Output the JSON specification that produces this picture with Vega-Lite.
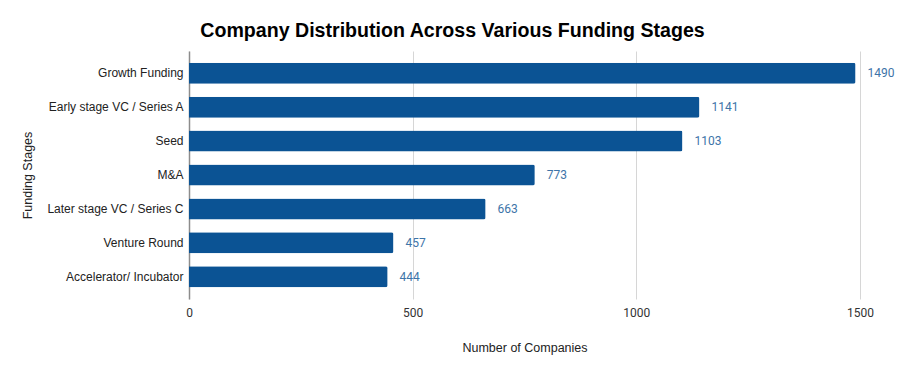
{
  "$schema": "https://vega.github.io/schema/vega-lite/v6.json",
  "width": 671,
  "height": 248,
  "autosize": {"type": "none"},
  "padding": {"left": 189, "top": 51, "right": 40, "bottom": 75},
  "background": "white",
  "title": {
    "text": "Company Distribution Across Various Funding Stages",
    "font": "Liberation Sans",
    "fontSize": 19.6,
    "fontWeight": "bold",
    "color": "#000000",
    "anchor": "middle",
    "dx": -72,
    "offset": 9
  },
  "data": {
    "values": [
      {"stage": "Growth Funding", "count": 1490},
      {"stage": "Early stage VC / Series A", "count": 1141},
      {"stage": "Seed", "count": 1103},
      {"stage": "M&A", "count": 773},
      {"stage": "Later stage VC / Series C", "count": 663},
      {"stage": "Venture Round", "count": 457},
      {"stage": "Accelerator/ Incubator", "count": 444}
    ]
  },
  "config": {
    "view": {"stroke": null}
  },
  "encoding": {
    "y": {
      "field": "stage",
      "type": "nominal",
      "sort": null,
      "scale": {"paddingInner": 0.38, "paddingOuter": 0.35},
      "axis": {
        "title": "Funding Stages",
        "titleFont": "Liberation Sans",
        "titleFontSize": 12.5,
        "titleFontWeight": "normal",
        "titleColor": "#222222",
        "titleX": -162,
        "titleY": 124,
        "titleAngle": -90,
        "titleAlign": "center",
        "titleBaseline": "middle",
        "labelFont": "Liberation Sans",
        "labelFontSize": 12,
        "labelColor": "#222222",
        "labelPadding": 6,
        "ticks": false,
        "domain": true,
        "domainColor": "#8c8c8c",
        "domainWidth": 1.5,
        "grid": false
      }
    },
    "x": {
      "field": "count",
      "type": "quantitative",
      "scale": {"domain": [0, 1500], "nice": false},
      "axis": {
        "title": "Number of Companies",
        "titleFont": "Liberation Sans",
        "titleFontSize": 12.5,
        "titleFontWeight": "normal",
        "titleColor": "#222222",
        "titleY": 42,
        "titleBaseline": "top",
        "values": [0, 500, 1000, 1500],
        "format": "d",
        "labelFlush": false,
        "labelFont": "Roboto",
        "labelFontSize": 12,
        "labelColor": "#333333",
        "labelPadding": 8,
        "ticks": false,
        "domain": false,
        "grid": true,
        "gridColor": "#d6d6d6",
        "gridWidth": 1
      }
    }
  },
  "layer": [
    {
      "mark": {"type": "bar", "color": "#0b5394", "cornerRadiusEnd": 2}
    },
    {
      "mark": {"type": "text", "align": "left", "dx": 12, "font": "Roboto", "fontSize": 12, "color": "#3d74a8", "baseline": "middle"},
      "encoding": {"text": {"field": "count", "type": "quantitative"}}
    }
  ]
}
